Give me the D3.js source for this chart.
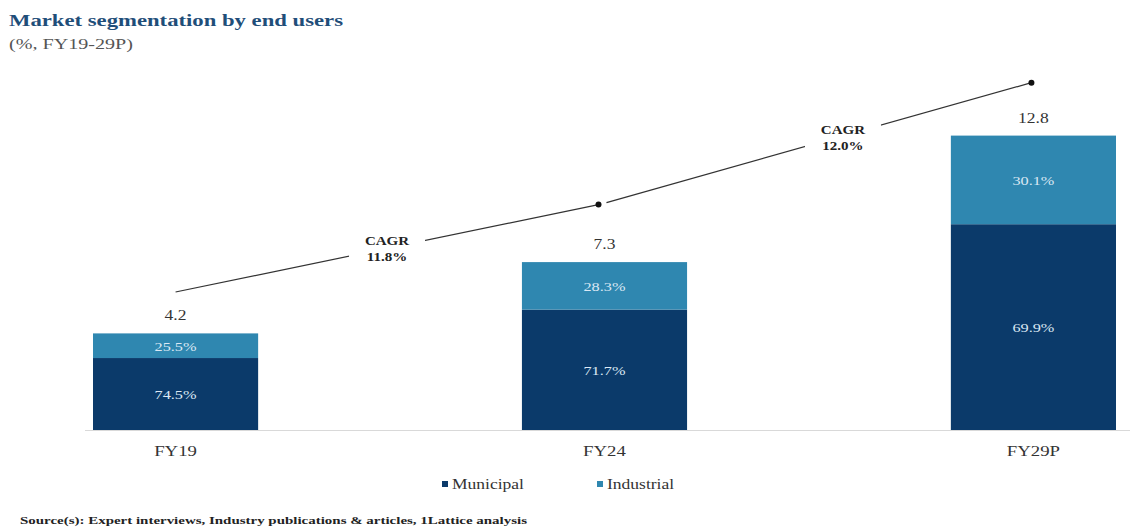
<!DOCTYPE html>
<html>
<head>
<meta charset="utf-8">
<script src="https://cdn.jsdelivr.net/npm/d3@7"></script>
<style>
body { margin: 0; background: #fff; }
svg text { font-family: "Liberation Serif", "DejaVu Serif", serif; }
</style>
</head>
<body>
<script>
// chart data
var categories = ["FY19", "FY24", "FY29P"];
var totals = [4.2, 7.3, 12.8];
var municipal = [74.5, 71.7, 69.9];
var industrial = [25.5, 28.3, 30.1];
var cagrLabels = ["11.8%", "12.0%"];
var cagrLevels = [6.0, 9.8, 15.1];
var seriesNames = ["Municipal", "Industrial"];

function main(){

	var w = 1139;
	var h = 532;

	var colors = { Municipal: "#0b3a6a", Industrial: "#2f87b0" };

	var svg = d3.select("body")
				.append("svg")
				.attr("width", w)
				.attr("height", h)
				.attr("font-family", "Liberation Serif, serif");

	var x = d3.scaleBand()
		.domain(categories)
		.range([93, 1116])
		.paddingInner(0.615)
		.paddingOuter(0);

	var y = d3.scaleLinear()
		.domain([0, 16])
		.range([430, 62]);

	// title
	svg.append("text")
		.text("Market segmentation by end users")
		.attr("x", 9)
		.attr("y", 26)
		.attr("font-size", 16)
		.attr("font-weight", "bold")
		.attr("fill", "#1f4e79")
		.attr("class", "fixed")
		.attr("textLength", 334)
		.attr("lengthAdjust", "spacingAndGlyphs");

	svg.append("text")
		.text("(%, FY19-29P)")
		.attr("x", 9)
		.attr("y", 49)
		.attr("font-size", 14)
		.attr("fill", "#555")
		.attr("class", "fixed")
		.attr("textLength", 124)
		.attr("lengthAdjust", "spacingAndGlyphs");

	// stacked data
	var rows = categories.map(function(c, i){
		var m = totals[i] * municipal[i] / 100;
		return { cat: c, total: totals[i], segs: [
			{ name: "Municipal", pct: municipal[i], y0: 0, y1: m },
			{ name: "Industrial", pct: industrial[i], y0: m, y1: totals[i] }
		]};
	});

	// axis line
	svg.append("line")
		.attr("x1", 85)
		.attr("x2", 1130)
		.attr("y1", y(0) + 0.5)
		.attr("y2", y(0) + 0.5)
		.attr("stroke", "#d9d9d9")
		.attr("stroke-width", 1);

	var groups = svg.selectAll(".bar")
		.data(rows)
		.enter()
		.append("g")
		.attr("class", "bar");

	groups.selectAll("rect")
		.data(function(d){ return d.segs.map(function(s){ s.cat = d.cat; return s; }); })
		.enter()
		.append("rect")
		.attr("x", function(s){ return x(s.cat); })
		.attr("width", x.bandwidth())
		.attr("y", function(s){ return y(s.y1); })
		.attr("height", function(s){ return y(s.y0) - y(s.y1); })
		.attr("fill", function(s){ return colors[s.name]; });

	groups.selectAll(".pct")
		.data(function(d){ return d.segs; })
		.enter()
		.append("text")
		.attr("class", "pct")
		.text(function(s){ return s.pct.toFixed(1) + "%"; })
		.attr("x", function(s){ return x(s.cat) + x.bandwidth() / 2; })
		.attr("y", function(s){ return (y(s.y0) + y(s.y1)) / 2 + 5; })
		.attr("text-anchor", "middle")
		.attr("font-size", 13)
		.attr("fill", "#dbe8f4");

	// totals
	svg.selectAll(".total")
		.data(rows)
		.enter()
		.append("text")
		.attr("class", "total")
		.text(function(d){ return d.total.toFixed(1); })
		.attr("x", function(d){ return x(d.cat) + x.bandwidth() / 2; })
		.attr("y", function(d){ return y(d.total) - 13; })
		.attr("text-anchor", "middle")
		.attr("font-size", 14)
		.attr("fill", "#333");

	// category labels
	svg.selectAll(".cat")
		.data(categories)
		.enter()
		.append("text")
		.attr("class", "cat")
		.text(function(d){ return d; })
		.attr("x", function(d){ return x(d) + x.bandwidth() / 2; })
		.attr("y", 456)
		.attr("text-anchor", "middle")
		.attr("font-size", 15)
		.attr("fill", "#333");

	// CAGR arrows
	cagrLabels.forEach(function(lbl, i){
		var x1 = x(categories[i]) + x.bandwidth() / 2;
		var x2 = x(categories[i + 1]) + x.bandwidth() / 2 - (i == 0 ? 6 : 2);
		var y1 = y(cagrLevels[i]);
		var y2 = y(cagrLevels[i + 1]);
		svg.append("line")
			.attr("x1", x1 + (i == 0 ? 0 : 2))
			.attr("y1", y1 - (i == 0 ? 0 : 2))
			.attr("x2", x2)
			.attr("y2", y2)
			.attr("stroke", "#333")
			.attr("stroke-width", 1.2);
		svg.append("circle")
			.attr("cx", x2)
			.attr("cy", y2)
			.attr("r", 3)
			.attr("fill", "#111");
		var mx = (x1 + x2) / 2 + i * 25;
		var my = y1 + (y2 - y1) * ((mx - x1) / (x2 - x1));
		svg.append("rect")
			.attr("x", mx - 38)
			.attr("y", my - 18)
			.attr("width", 76)
			.attr("height", 34)
			.attr("fill", "#fff");
		svg.append("text")
			.text("CAGR")
			.attr("x", mx)
			.attr("y", my - 3)
			.attr("text-anchor", "middle")
			.attr("font-size", 12)
			.attr("font-weight", "bold")
			.attr("fill", "#222");
		svg.append("text")
			.text(lbl)
			.attr("x", mx)
			.attr("y", my + 13)
			.attr("text-anchor", "middle")
			.attr("font-size", 12)
			.attr("font-weight", "bold")
			.attr("fill", "#222");
	});

	// legend
	var legend = svg.selectAll(".legend")
		.data(seriesNames)
		.enter()
		.append("g")
		.attr("class", "legend")
		.attr("transform", function(d, i){ return "translate(" + (442 + i * 155) + ",484)"; });

	legend.append("rect")
		.attr("x", 0)
		.attr("y", -3)
		.attr("width", 6)
		.attr("height", 6)
		.attr("fill", function(d){ return colors[d]; });

	legend.append("text")
		.text(function(d){ return d; })
		.attr("x", 10)
		.attr("y", 5)
		.attr("font-size", 14)
		.attr("fill", "#333");

	// source
	svg.append("text")
		.text("Source(s): Expert interviews, Industry publications & articles, 1Lattice analysis")
		.attr("x", 20)
		.attr("y", 524)
		.attr("font-size", 11)
		.attr("font-weight", "bold")
		.attr("fill", "#222")
		.attr("class", "fixed")
		.attr("textLength", 507)
		.attr("lengthAdjust", "spacingAndGlyphs");

	// the reference type is set a bit wider than the font, stretch it
	svg.selectAll("text:not(.fixed)").each(function(){
		var len = this.getComputedTextLength();
		d3.select(this)
			.attr("textLength", len * 1.25)
			.attr("lengthAdjust", "spacingAndGlyphs");
	});
}

main();
</script>
</body>
</html>
